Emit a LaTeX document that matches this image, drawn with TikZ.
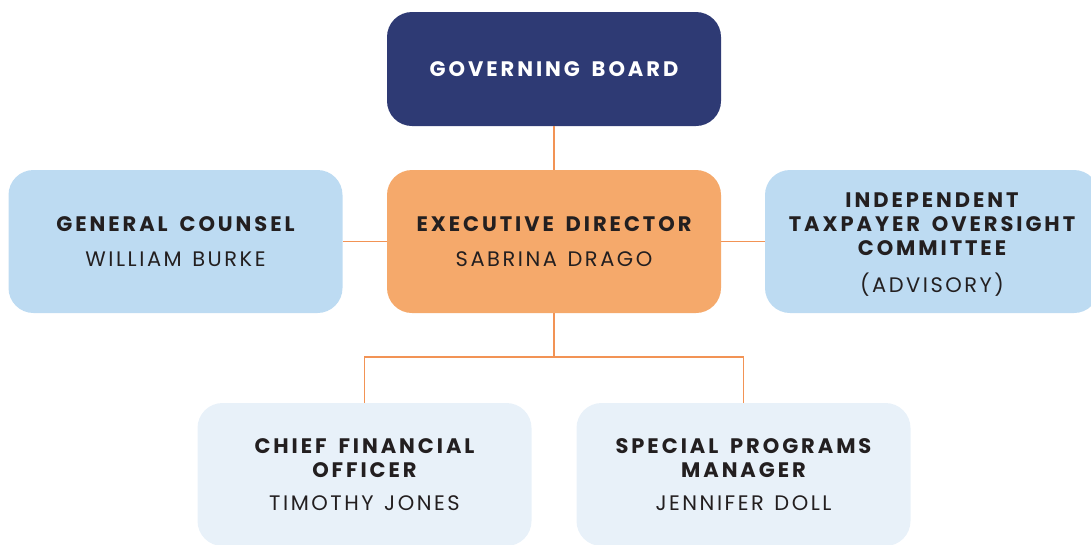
\documentclass[tikz,border=0pt]{standalone}
\usepackage{fontspec}
\setmainfont{Poppins}
\newfontfamily\headfont[LetterSpace=14, WordSpace=1.6]{Poppins}
\newfontfamily\namefont[LetterSpace=12, WordSpace=1.3]{Poppins}
\definecolor{navy}{HTML}{2E3A74}
\definecolor{peach}{HTML}{F5A96B}
\definecolor{skyblue}{HTML}{BDDBF2}
\definecolor{paleblue}{HTML}{E8F1F9}
\definecolor{linkline}{HTML}{F29355}
\definecolor{ink}{HTML}{231F20}
\newcommand{\personname}[1]{{\namefont\mdseries #1}}
\begin{document}
\begin{tikzpicture}[x=1pt,y=-1pt,
    box/.style={rounded corners=25pt, minimum width=334pt, minimum height=143pt,
      align=center, text=ink, inner sep=0pt,
      font=\headfont\bfseries\fontsize{21}{24}\selectfont},
    link/.style={draw=linkline, line width=1.2pt}]
  \useasboundingbox (0,0) rectangle (1091,544);
  \node[box, fill=navy, text=white, minimum height=114pt] (board) at (554,69)
    {GOVERNING BOARD};
  \node[box, fill=peach] (exec) at (554,241.5)
    {EXECUTIVE DIRECTOR\\[11pt] \personname{SABRINA DRAGO}};
  \node[box, fill=skyblue] (counsel) at (175.5,241.5)
    {GENERAL COUNSEL\\[11pt] \personname{WILLIAM BURKE}};
  \node[box, fill=skyblue] (itoc) at (932,241.5)
    {\rule{0pt}{21pt}INDEPENDENT\\ TAXPAYER OVERSIGHT\\ COMMITTEE\\[13pt]
     \personname{(ADVISORY)}};
  \node[box, fill=paleblue] (cfo) at (364.5,474.5)
    {CHIEF FINANCIAL\\ OFFICER\\[9pt] \personname{TIMOTHY JONES}};
  \node[box, fill=paleblue] (spm) at (743.5,474.5)
    {SPECIAL PROGRAMS\\ MANAGER\\[9pt] \personname{JENNIFER DOLL}};
  % connectors
  \coordinate (split) at (554,357);
  \draw[link] (board) -- (exec);
  \draw[link] (exec) -- (counsel);
  \draw[link] (exec) -- (itoc);
  \draw[link] (exec) -- (split) -| (cfo);
  \draw[link] (split) -| (spm);
\end{tikzpicture}
\end{document}
